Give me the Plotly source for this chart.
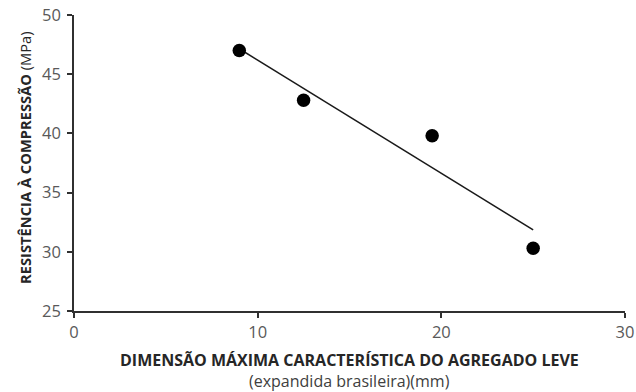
import numpy as np
import plotly.graph_objects as go

# Maximum characteristic dimension of the lightweight aggregate (mm)
dimensao_mm = [9.0, 12.5, 19.5, 25.0]
# Compressive strength (MPa)
resistencia_mpa = [47.0, 42.8, 39.8, 30.3]

x_ticks = [0, 10, 20, 30]
y_ticks = [25, 30, 35, 40, 45, 50]

# Linear trendline over the measured range
coef = np.polyfit(dimensao_mm, resistencia_mpa, 1)
x_fit = np.array([min(dimensao_mm), max(dimensao_mm)])
y_fit = np.polyval(coef, x_fit)

FONT = "Open Sans"
AXIS = "#303030"

fig = go.Figure()
fig.add_trace(go.Scatter(
    x=x_fit, y=y_fit, mode="lines",
    line=dict(color="#1a1a1a", width=1.6),
    showlegend=False, hoverinfo="skip",
))
fig.add_trace(go.Scatter(
    x=dimensao_mm, y=resistencia_mpa, mode="markers",
    marker=dict(color="black", size=13.5),
    showlegend=False,
))

axis_style = dict(
    showgrid=False, zeroline=False, automargin=False,
    showline=True, linecolor=AXIS, linewidth=1.5,
    ticks="outside", ticklen=5, tickwidth=1.5, tickcolor=AXIS,
    tickfont=dict(family=FONT, size=16.5, color="#595959"),
)

fig.update_layout(
    template="simple_white",
    width=636, height=392,
    margin=dict(l=74, r=11, t=15, b=81, pad=0),
    paper_bgcolor="white", plot_bgcolor="white",
    font=dict(family=FONT, color="#595959", size=14),
    xaxis=dict(range=[0, 30], tickvals=x_ticks, **axis_style),
    yaxis=dict(range=[25, 50], tickvals=y_ticks, ticklabelstandoff=3, **axis_style),
    annotations=[
        dict(
            text="<b>DIMENSÃO MÁXIMA CARACTERÍSTICA DO AGREGADO LEVE</b>",
            xref="paper", yref="paper", x=0.5, y=-0.1655,
            xanchor="center", yanchor="middle", showarrow=False,
            font=dict(family=FONT, size=16, color="#262626"),
        ),
        dict(
            text="(expandida brasileira)(mm)",
            xref="paper", yref="paper", x=0.5, y=-0.2365,
            xanchor="center", yanchor="middle", showarrow=False,
            font=dict(family=FONT, size=16, color="#404040"),
        ),
        dict(
            text="<b>RESISTÊNCIA À COMPRESSÃO</b> (MPa)",
            xref="paper", yref="paper", x=-0.088, y=0.519,
            xanchor="center", yanchor="middle", showarrow=False, textangle=-90,
            font=dict(family=FONT, size=14.7, color="#262626"),
        ),
    ],
)

fig.write_html("out.html")
